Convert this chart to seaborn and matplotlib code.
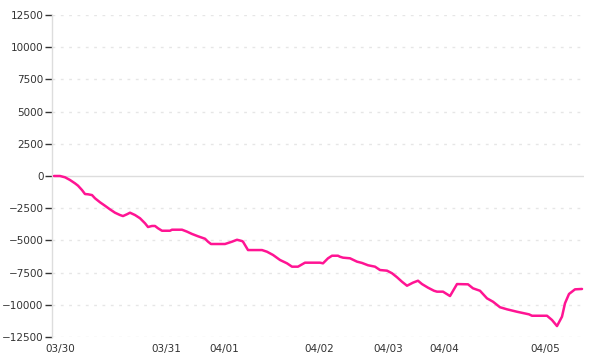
import matplotlib
matplotlib.use("Agg")
import matplotlib.pyplot as plt
import seaborn as sns
import pandas as pd

# trading-time index (continuous session time) and cumulative value
t = [0, 6, 11, 16, 21, 24, 28, 31, 34, 38,
     41, 46, 51, 56, 61, 66, 69, 73, 76, 81,
     86, 91, 94, 98, 101, 104, 108, 116, 118, 128,
     133, 138, 144, 151, 154, 157, 171, 178, 183, 188,
     189, 192, 194, 208, 213, 219, 226, 233, 238, 244,
     251, 266, 269, 274, 278, 284, 286, 289, 296, 303,
     308, 314, 321, 326, 333, 338, 343, 348, 353, 359,
     364, 368, 374, 380, 383, 389, 396, 403, 414, 419,
     426, 433, 439, 446, 453, 463, 475, 478, 493, 498,
     503, 508, 511, 515, 521, 528]
values = [0, 0, -100, -310, -570, -750, -1090, -1400, -1420, -1480,
          -1730, -2040, -2310, -2590, -2850, -3030, -3110, -2970, -2850, -3030,
          -3280, -3670, -3960, -3880, -3880, -4060, -4250, -4250, -4170, -4170,
          -4320, -4500, -4680, -4870, -5100, -5280, -5280, -5100, -4950, -5050,
          -5100, -5490, -5750, -5750, -5880, -6130, -6520, -6780, -7040, -7040,
          -6730, -6730, -6780, -6390, -6190, -6190, -6270, -6340, -6390, -6650,
          -6750, -6930, -7040, -7300, -7350, -7550, -7860, -8210, -8520, -8280,
          -8130, -8390, -8670, -8910, -8980, -8980, -9320, -8390, -8410, -8720,
          -8910, -9500, -9760, -10190, -10350, -10540, -10740, -10850, -10850, -11180,
          -11650, -10920, -9880, -9160, -8800, -8770]

tick_pos = [6, 112, 170, 265, 334, 390, 491]
tick_labels = ["03/30", "03/31", "04/01", "04/02", "04/03", "04/04", "04/05"]
y_ticks = [12500, 10000, 7500, 5000, 2500, 0, -2500, -5000, -7500, -10000, -12500]

df = pd.DataFrame({"t": t, "value": values})

sns.set_theme(style="white")
plt.rcParams["font.family"] = ["DejaVu Sans"]

fig = plt.figure(figsize=(6, 3.6), dpi=100)
ax = fig.add_axes([52 / 600, 1 - 337 / 360, (584 - 52) / 600, (337 - 15) / 360])

# grid lines
for yv in y_ticks:
    if yv == 0:
        ax.axhline(yv, color="#dddddd", lw=1.0, zorder=1)
    else:
        ax.axhline(yv, color="#e6e6e6", lw=1.0, ls=(0, (2, 4)), zorder=1)

sns.lineplot(data=df, x="t", y="value", ax=ax, color="#ff1493", lw=1.8, zorder=3)

ax.set_xlim(-2, 530)
ax.set_ylim(-12500, 12500)
ax.set_yticks(y_ticks)
ax.set_yticklabels([str(v).replace("-", "\u2212") for v in y_ticks])
ax.set_xticks(tick_pos)
ax.set_xticklabels(tick_labels)
ax.set_xlabel("")
ax.set_ylabel("")

for s in ["top", "right", "bottom"]:
    ax.spines[s].set_visible(False)
ax.spines["left"].set_color("#dddddd")
ax.spines["left"].set_linewidth(1.0)

ax.tick_params(axis="y", which="both", left=True, length=5, width=1, color="#333333",
               labelsize=7.5, labelcolor="#333333", pad=1)
ax.tick_params(axis="x", which="both", bottom=False, length=0, labelsize=7.5,
               labelcolor="#333333", pad=5)

fig.savefig("out.png", dpi=100)
